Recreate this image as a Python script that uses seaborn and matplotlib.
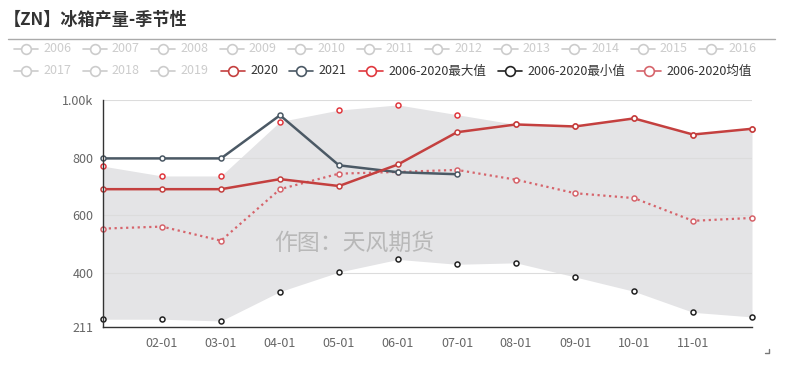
import matplotlib
matplotlib.use('Agg')
import matplotlib.pyplot as plt
from matplotlib.lines import Line2D
import seaborn as sns
import pandas as pd
import numpy as np

months = ['01-01', '02-01', '03-01', '04-01', '05-01', '06-01',
          '07-01', '08-01', '09-01', '10-01', '11-01', '12-01']
v2020 = [690, 690, 690, 725, 701, 776, 888, 915, 908, 936, 880, 900]
v2021 = [797, 797, 797, 947, 773, 749, 742]
vmax = [770, 736, 736, 925, 965, 983, 949, 915, 908, 936, 880, 900]
vmin = [238, 238, 232, 334, 402, 446, 429, 434, 385, 335, 262, 246]
vmean = [553, 560, 511, 690, 744, 750, 757, 723, 676, 659, 580, 590]

grey_years = ['2006', '2007', '2008', '2009', '2010', '2011', '2012',
              '2013', '2014', '2015', '2016', '2017', '2018', '2019']

c2020 = '#c4403f'
c2021 = '#4b5965'
cmax = '#e0383e'
cmin = '#222222'
cmean = '#d6646b'

sns.set_theme(style='white')
plt.rcParams['font.family'] = ['Noto Sans CJK SC', 'DejaVu Sans']

W, H = 785, 368
fig = plt.figure(figsize=(W / 100, H / 100), dpi=100)


def px(x, y):
    return x / W, 1 - y / H


ax = fig.add_axes([103 / W, 1 - 327 / H, (752 - 103) / W, (327 - 100) / H])
ax.set_facecolor('none')

x = np.arange(len(months))
df = pd.DataFrame({'x': x, 'v2020': v2020, 'max': vmax, 'min': vmin, 'mean': vmean})
df21 = pd.DataFrame({'x': x[:len(v2021)], 'v2021': v2021})

ax.fill_between(df['x'], df['min'], df['max'], color='#e4e4e6', lw=0, zorder=1)

mk = dict(marker='o', ms=3.6, mfc='white', mew=1.1, clip_on=False)
sns.lineplot(data=df, x='x', y='mean', ax=ax, color=cmean, lw=1.6,
             linestyle=(0, (1, 1.6)), mec=cmean, zorder=4, **mk)
sns.lineplot(data=df21, x='x', y='v2021', ax=ax, color=c2021, lw=1.8,
             mec=c2021, zorder=5, **mk)
sns.lineplot(data=df, x='x', y='v2020', ax=ax, color=c2020, lw=1.8,
             mec=c2020, zorder=6, **mk)
sns.scatterplot(data=df, x='x', y='max', ax=ax, s=13, facecolor='white',
                edgecolor=cmax, linewidth=1.1, zorder=3, clip_on=False)
sns.scatterplot(data=df, x='x', y='min', ax=ax, s=13, facecolor='white',
                edgecolor=cmin, linewidth=1.1, zorder=3, clip_on=False)

ax.set_xlim(0, len(months) - 1)
ax.set_ylim(211, 1000)
ax.set_xticks(x[1:-1])
ax.set_xticklabels(months[1:-1])
ax.set_yticks([211, 400, 600, 800, 1000])
ax.set_yticklabels(['211', '400', '600', '800', '1.00k'])
ax.set_xlabel('')
ax.set_ylabel('')
ax.yaxis.grid(True, color='#dcdcdc', lw=0.8, zorder=2)
ax.set_axisbelow(False)
for s in ['top', 'right']:
    ax.spines[s].set_visible(False)
for s in ['left', 'bottom']:
    ax.spines[s].set_color('#333333')
    ax.spines[s].set_linewidth(1)
    ax.spines[s].set_zorder(7)
ax.tick_params(axis='both', direction='out', length=4, width=1, color='#333333',
               labelcolor='#666666', labelsize=9, pad=3)

# watermark
fig.text(*px(354, 243), '作图：天风期货', ha='center', va='center',
         fontsize=16.5, color='#b8b8b8')

# title and separator
fig.text(*px(4, 20), '【ZN】冰箱产量-季节性', ha='left', va='center',
         fontsize=12.3, fontweight='bold', color='#333333')
fig.add_artist(Line2D([8 / W, 775 / W], [1 - 39 / H] * 2, color='#aaaaaa', lw=1))

# small corner mark
fig.add_artist(Line2D([765 / W, 769 / W, 769 / W], [1 - 353 / H, 1 - 353 / H, 1 - 349 / H],
                      color='#777777', lw=1))


def legend_item(tx, ty, label, color, tcolor):
    cx = tx - 17
    fig.add_artist(Line2D([(cx - 12) / W, (cx + 12) / W], [1 - ty / H] * 2,
                          color=color, lw=1.2))
    fig.add_artist(Line2D([cx / W], [1 - ty / H], color=color, marker='o', ms=7,
                          mfc='white', mew=1.2, lw=0))
    fig.text(*px(tx, ty), label, ha='left', va='center', fontsize=9, color=tcolor)


for i, yr in enumerate(grey_years):
    row = i // 11
    col = i % 11
    legend_item(43 + 68.5 * col, 49 + 22 * row, yr, '#cccccc', '#cccccc')

legend_item(250, 71, '2020', c2020, '#333333')
legend_item(318, 71, '2021', c2021, '#333333')
legend_item(388, 71, '2006-2020最大值', cmax, '#333333')
legend_item(527, 71, '2006-2020最小值', cmin, '#333333')
legend_item(666, 71, '2006-2020均值', cmean, '#333333')

fig.savefig('out.png', dpi=100, facecolor='white')
